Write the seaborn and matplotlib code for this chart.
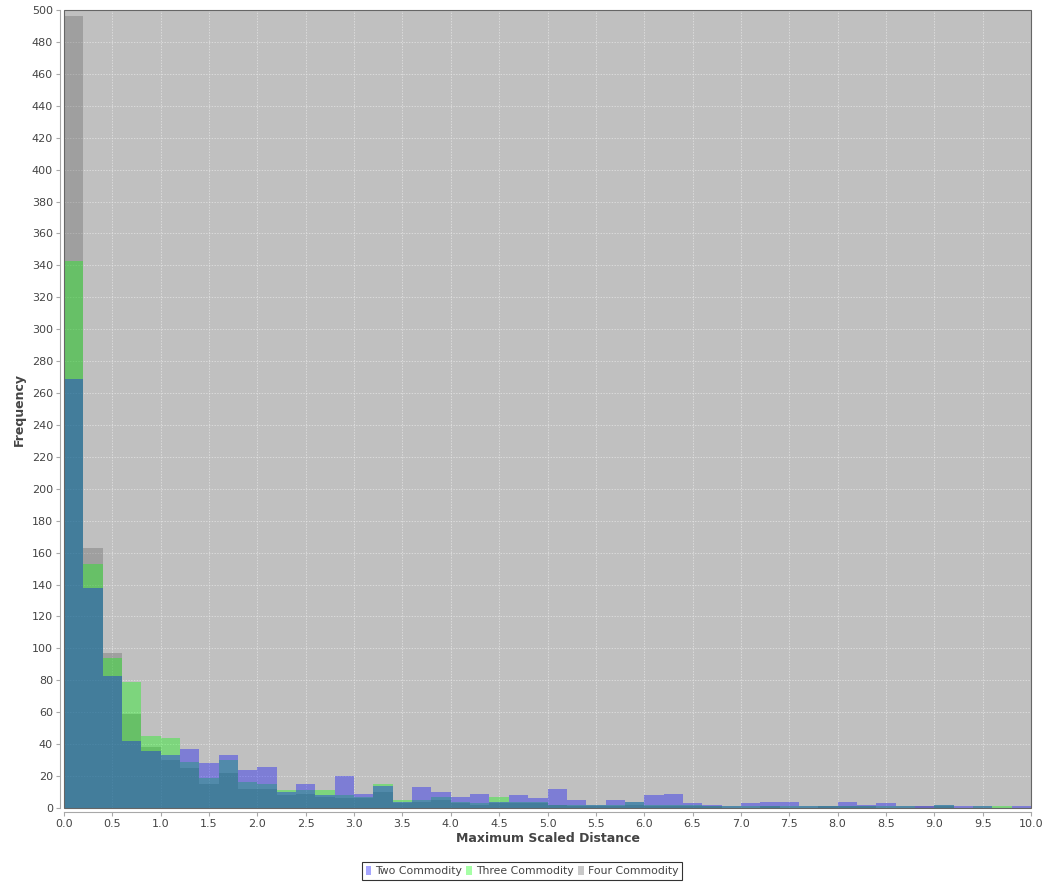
import numpy as np
import pandas as pd
import seaborn as sns
import matplotlib.pyplot as plt
from matplotlib.patches import Patch, Rectangle

# counts per 0.2-wide bin
bin_left = np.round(np.arange(0, 10, 0.2), 2)
two_commodity = [269, 138, 83, 42, 36, 33, 37, 28, 33, 24, 26, 10, 15, 8, 20, 9, 14, 4, 13, 10,
                 7, 9, 4, 8, 6, 12, 5, 2, 5, 4, 8, 9, 3, 2, 1, 3, 4, 4, 1, 1,
                 4, 2, 3, 1, 1, 2, 1, 1, 0, 1]
three_commodity = [343, 153, 94, 79, 45, 44, 29, 19, 30, 16, 15, 11, 11, 11, 8, 7, 15, 5, 5, 7,
                   4, 3, 7, 4, 4, 2, 2, 2, 2, 4, 2, 2, 2, 1, 1, 1, 1, 1, 1, 1,
                   1, 1, 1, 1, 0, 2, 0, 1, 1, 0]
four_commodity = [496, 163, 97, 59, 38, 30, 25, 15, 22, 12, 12, 8, 9, 7, 6, 6, 10, 3, 4, 5,
                  3, 2, 3, 3, 3, 2, 1, 1, 1, 2, 1, 1, 1, 1, 0, 0, 1, 0, 0, 1,
                  1, 1, 0, 0, 1, 1, 0, 0, 0, 0]
series_names = ["Two Commodity", "Three Commodity", "Four Commodity"]
series_colors = ["#0000ff", "#00ff00", "#646464"]

sns.set_style("white")
plt.rcParams['font.family'] = ['DejaVu Sans']

fig = plt.figure(figsize=(10.43, 8.82), dpi=100)
ax = fig.add_axes([64/1043, 1 - 808/882, (1031-64)/1043, (808-10)/882])
ax.set_facecolor("#c0c0c0")

# draw gray first, blue on top
for vals, col in [(four_commodity, series_colors[2]),
                  (three_commodity, series_colors[1]),
                  (two_commodity, series_colors[0])]:
    df = pd.DataFrame({"dist": bin_left + 0.1, "count": vals})
    sns.histplot(data=df, x="dist", weights="count", binwidth=0.2, binrange=(0, 10),
                 color=col, alpha=0.35, linewidth=0, element="bars", ax=ax)

ax.set_xlim(0, 10)
ax.set_ylim(0, 500)
ax.set_xticks(np.arange(0, 10.01, 0.5))
ax.set_xticklabels([f"{v:.1f}" for v in np.arange(0, 10.01, 0.5)])
ax.set_yticks(np.arange(0, 501, 20))
ax.tick_params(axis="both", labelsize=8, labelcolor="#444444", color="#a8a8a8",
               length=3, width=0.8, direction="out", bottom=True, left=True, pad=2)
ax.grid(True, color="#e6e6e6", linestyle=(0, (2, 2)), linewidth=0.5)
ax.set_axisbelow(True)
for side in ["top", "right"]:
    ax.spines[side].set_visible(False)
for side in ["left", "bottom"]:
    ax.spines[side].set_position(("outward", 3))
    ax.spines[side].set_color("#a8a8a8")
    ax.spines[side].set_linewidth(0.8)
# plot outline
ax.add_patch(Rectangle((0, 0), 1, 1, transform=ax.transAxes, fill=False,
                       edgecolor="#666666", linewidth=0.8, clip_on=False, zorder=5))

ax.set_xlabel("Maximum Scaled Distance", fontsize=9, fontweight="bold", color="#444444", labelpad=2)
ax.set_ylabel("Frequency", fontsize=9, fontweight="bold", color="#444444", labelpad=4)

handles = [Patch(facecolor=c, alpha=0.35, edgecolor="none") for c in series_colors]
leg = fig.legend(handles, series_names, loc="center", bbox_to_anchor=(522/1043, 1 - 871/882),
                 ncol=3, fontsize=7.8, frameon=True, fancybox=False, handlelength=0.5,
                 handleheight=1.0, handletextpad=0.4, columnspacing=0.4, borderpad=0.3,
                 borderaxespad=0)
leg.get_frame().set_edgecolor("black")
leg.get_frame().set_linewidth(0.8)
for t in leg.get_texts():
    t.set_color("#444444")

fig.savefig("out.png", dpi=100)
